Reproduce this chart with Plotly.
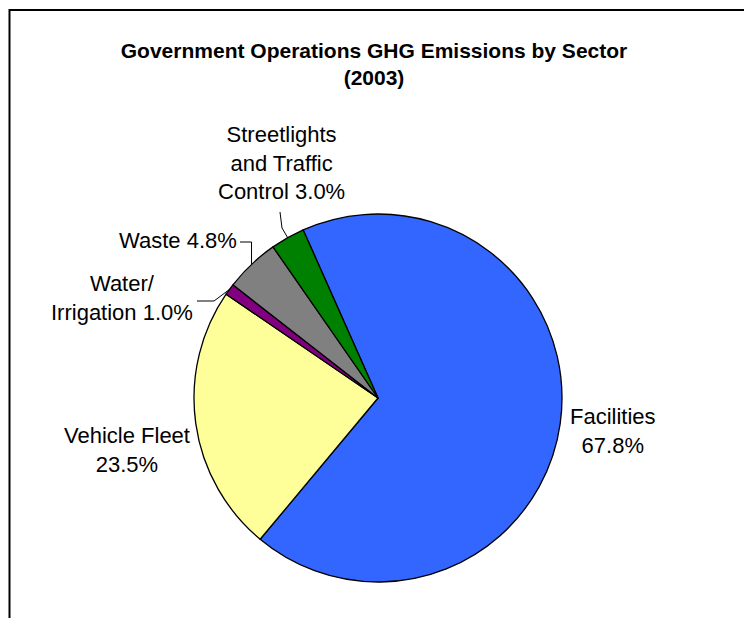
import math
import plotly.graph_objects as go

W, H = 744, 618

sectors = ["Facilities", "Vehicle Fleet", "Water/ Irrigation", "Waste", "Streetlights and Traffic Control"]
values = [67.8, 23.5, 1.0, 4.8, 3.0]
colors = ["#3366FF", "#FFFF99", "#800080", "#808080", "#008000"]
label_texts = ["Facilities<br>67.8%", "Vehicle Fleet<br>23.5%", "Water/<br>Irrigation 1.0%",
               "Waste 4.8%", "Streetlights<br>and Traffic<br>Control 3.0%"]

# layout geometry (pixels)
CX, CY, R = 378, 398, 184
ROT = -24.0

def px(x):
    return x / W

def py(y):
    return 1 - y / H

fig = go.Figure(go.Pie(
    labels=sectors, values=values, sort=False, direction="clockwise", rotation=ROT,
    marker=dict(colors=colors, line=dict(color="black", width=1.3)),
    textinfo="none", hoverinfo="label+percent", showlegend=False,
    domain=dict(x=[px(CX - R), px(CX + R)], y=[py(CY + R), py(CY - R)]),
))

# mid angles of slices (clockwise from 12 o'clock)
total = sum(values)
mids = []
acc = ROT
for v in values:
    a = v / total * 360
    mids.append(acc + a / 2)
    acc += a

def edge(i):
    a = math.radians(mids[i])
    return CX + R * math.sin(a), CY - R * math.cos(a)

label_pos = [(613, 431), (127, 450), (122, 298), (178, 241), (281, 163)]
annotations = []
for t, (x, y) in zip(label_texts, label_pos):
    annotations.append(dict(text=t, x=px(x), y=py(y), xref="paper", yref="paper",
                            xanchor="center", yanchor="middle", showarrow=False, align="center",
                            font=dict(family="Liberation Sans, Arial", size=22, color="black")))

shapes = []
# frame
shapes.append(dict(type="rect", xref="paper", yref="paper", x0=px(9.5), y0=py(660), x1=px(780), y1=py(10),
                   line=dict(color="black", width=2), layer="below"))

def polyline(points):
    path = "M " + " L ".join(f"{px(x)},{py(y)}" for x, y in points)
    return dict(type="path", xref="paper", yref="paper", path=path,
                line=dict(color="black", width=1))

# leader lines
ex, ey = edge(2)
shapes.append(polyline([(197, 301), (214, 301), (ex, ey)]))
ex, ey = edge(3)
shapes.append(polyline([(240, 242), (ex, 242), (ex, ey)]))
ex, ey = edge(4)
shapes.append(polyline([(280, 212), (282, 228), (ex, ey)]))

fig.update_layout(
    width=W, height=H, margin=dict(l=0, r=0, t=0, b=0),
    paper_bgcolor="white", plot_bgcolor="white",
    title=dict(text="<b>Government Operations GHG Emissions by Sector<br>(2003)</b>",
               x=px(374), y=py(58), xanchor="center", yanchor="middle", xref="paper", yref="paper",
               font=dict(family="Liberation Sans, Arial", size=21, color="black")),
    annotations=annotations, shapes=shapes,
)

fig.write_html("out.html")
